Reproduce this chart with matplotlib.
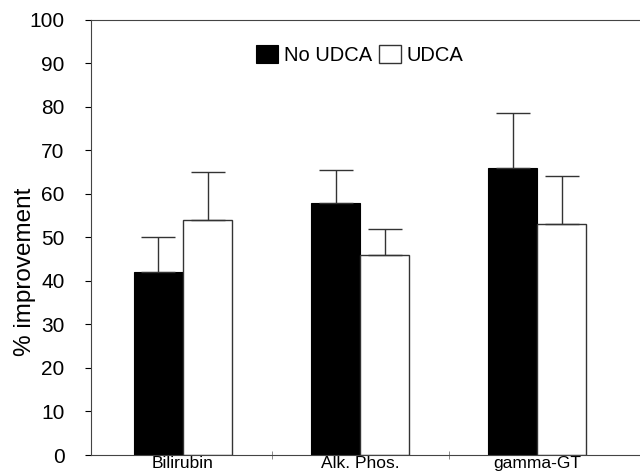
import numpy as np
import matplotlib
matplotlib.use('Agg')
import matplotlib.pyplot as plt

plt.rcParams['font.family'] = ['Liberation Sans', 'DejaVu Sans']

# data
categories = ['Bilirubin', 'Alk. Phos.', 'gamma-GT']
no_udca = [42, 58, 66]
no_udca_err = [8, 7.5, 12.5]
udca = [54, 46, 53]
udca_err = [11, 6, 11]
yticks = np.arange(0, 101, 10)

x = np.arange(len(categories))
w = 0.277

fig = plt.figure(figsize=(6.4, 4.72), dpi=100)
ax = fig.add_axes([0.142, 0.036, 0.858, 0.922])

ekw = dict(ecolor='#333333', elinewidth=1, capsize=12, capthick=1)
ax.bar(x - w/2, no_udca, w, color='black', edgecolor='black', linewidth=0.8,
       yerr=[[0]*3, no_udca_err], error_kw=ekw, label='No UDCA', zorder=2)
ax.bar(x + w/2, udca, w, color='white', edgecolor='#333333', linewidth=1,
       yerr=[[0]*3, udca_err], error_kw=ekw, label='UDCA', zorder=2)

ax.set_xlim(-0.52, 2.58)
ax.set_ylim(0, 100)
ax.set_yticks(yticks)
ax.tick_params(axis='y', labelsize=15, direction='out', length=4, width=0.8, pad=15)
ax.set_xticks(x)
ax.set_xticklabels(categories, fontsize=12.5)
ax.tick_params(axis='x', length=0, pad=1)
ax.set_xticks([0.5, 1.5], minor=True)
ax.tick_params(axis='x', which='minor', direction='inout', length=6, width=0.6, color='#777777')
ax.set_ylabel('% improvement', fontsize=17.5)
ax.yaxis.set_label_coords(-0.1, 0.42)

ax.spines['right'].set_visible(False)
for s in ['left', 'top', 'bottom']:
    ax.spines[s].set_linewidth(0.8)
    ax.spines[s].set_color('#444444')

ax.legend(loc='center', bbox_to_anchor=(0.49, 0.92), ncol=2, frameon=False,
          fontsize=14.5, handlelength=1.1, handleheight=1.0, handletextpad=0.3,
          columnspacing=0.3, borderpad=0)

fig.savefig('out.png', dpi=100)
